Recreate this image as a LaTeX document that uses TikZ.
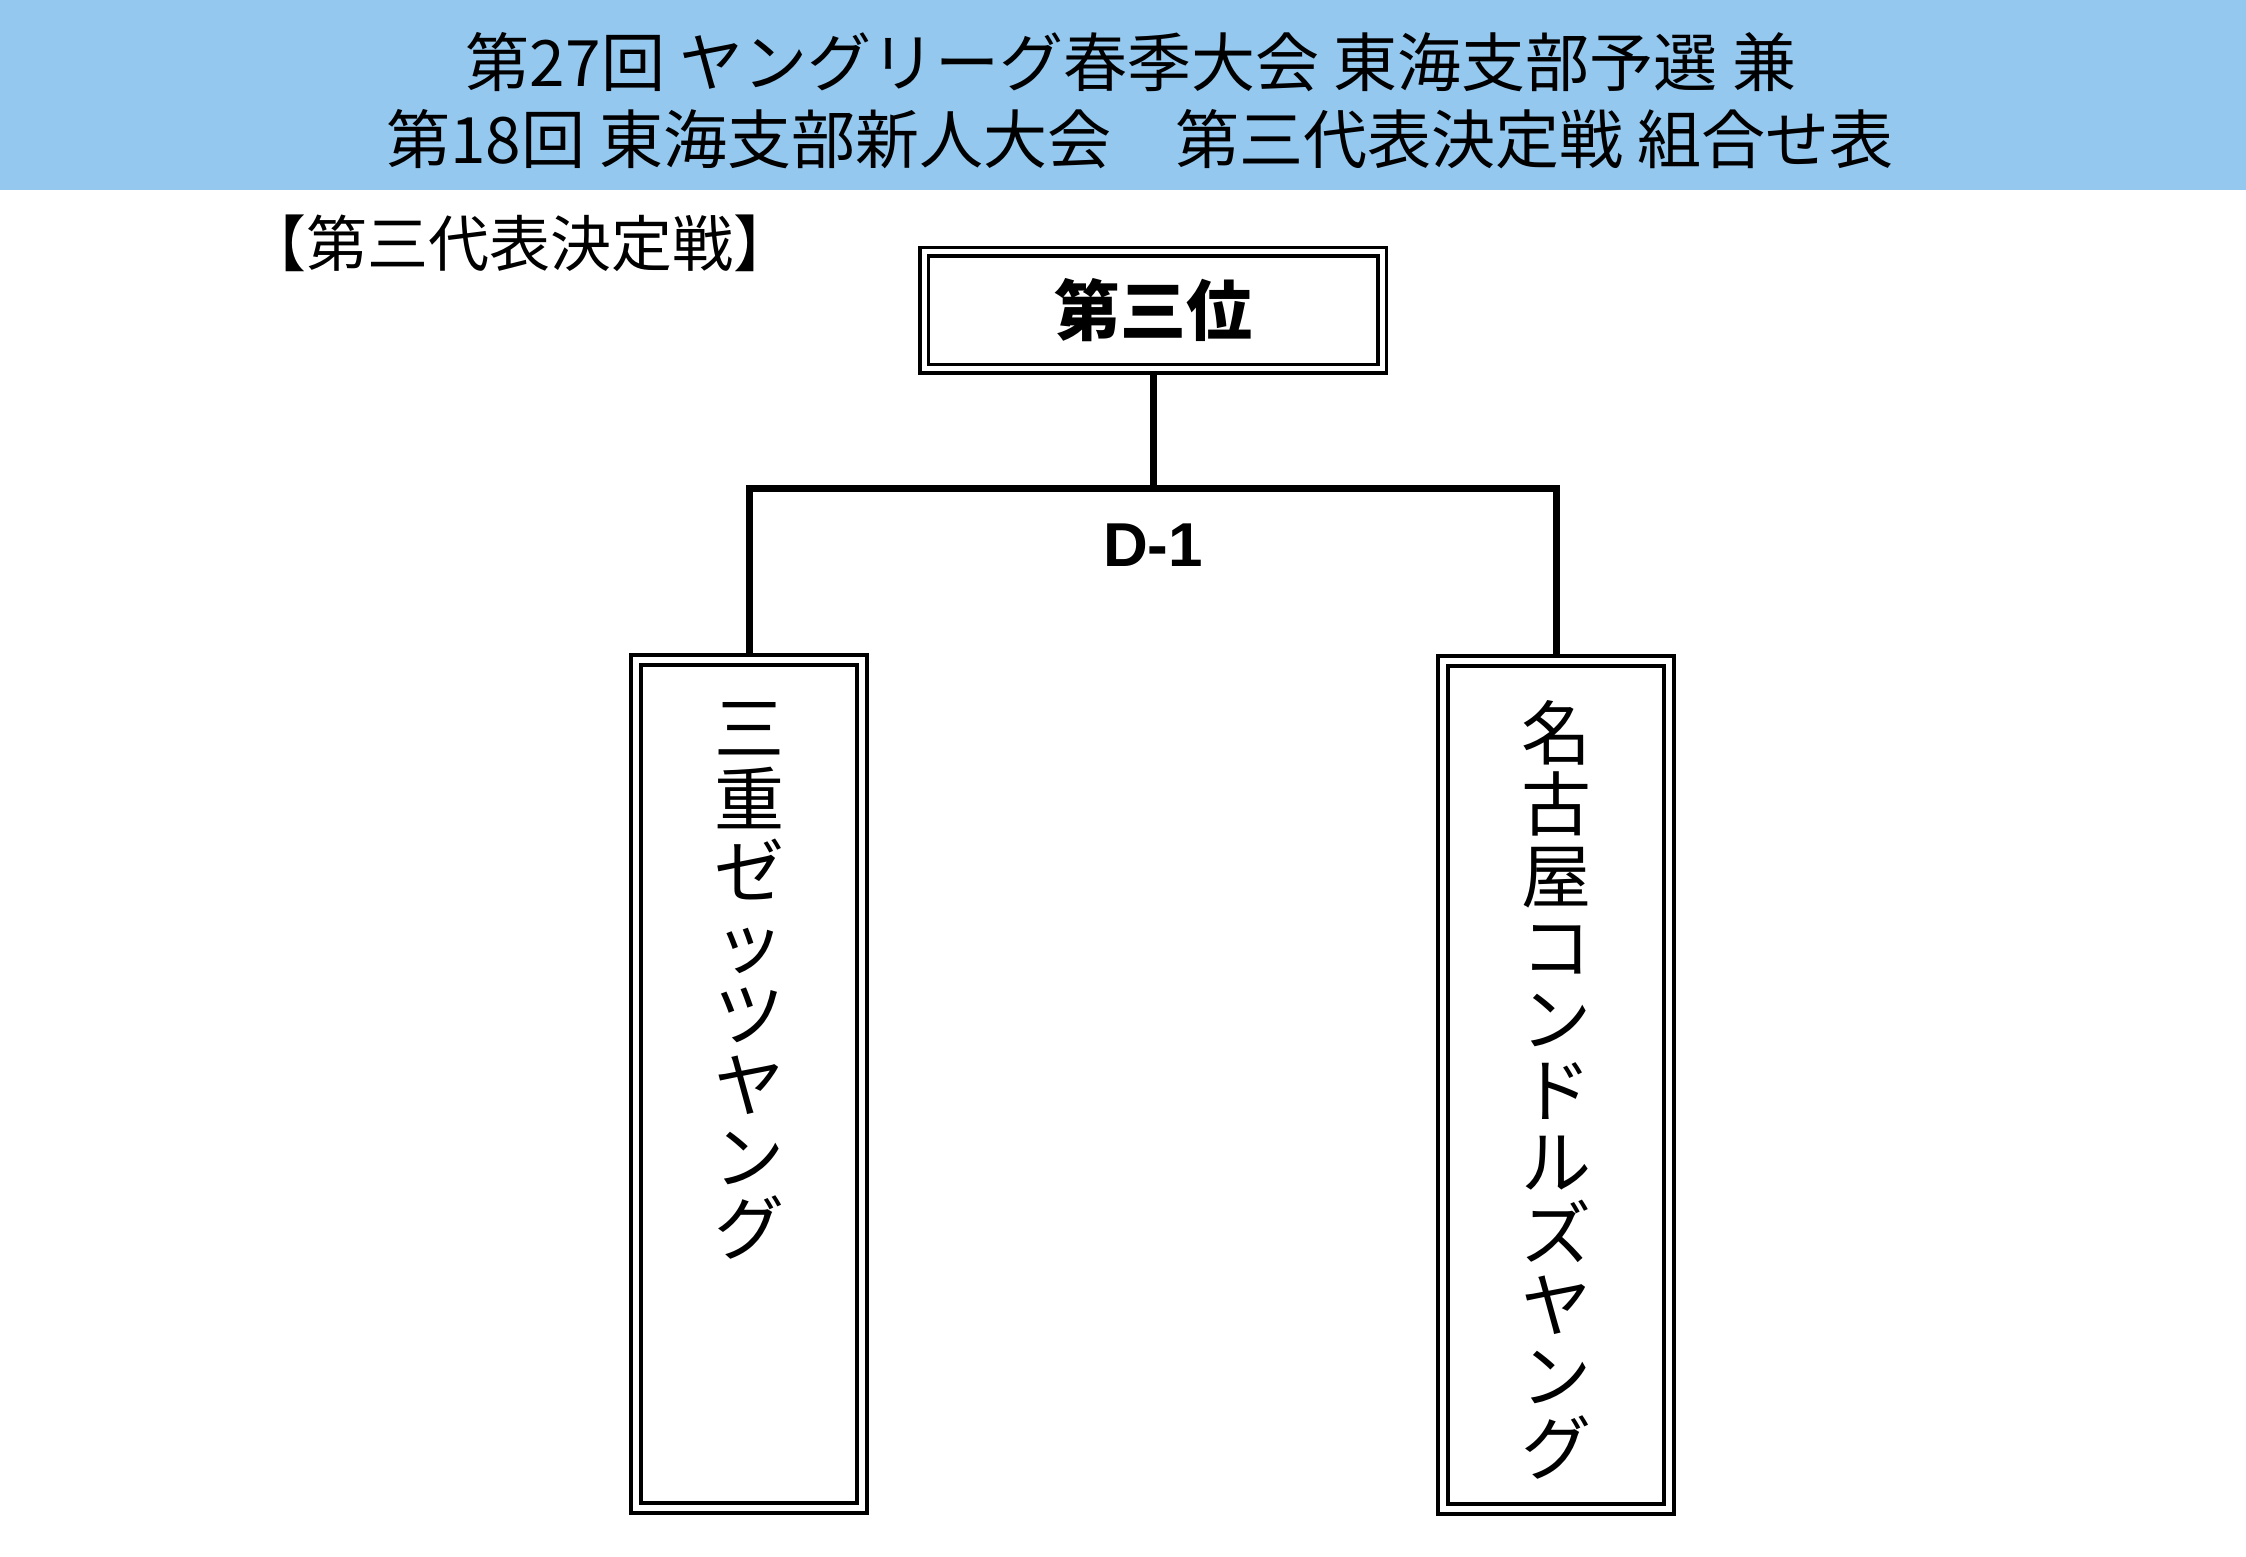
\documentclass[tikz,border=0pt]{standalone}
\usepackage{fontspec}
\newfontfamily\jp{Noto Sans CJK JP}
\newfontfamily\lat{Liberation Sans}
\definecolor{band}{RGB}{148,200,238}
\tikzset{
  title/.style={font=\jp\fontsize{64}{64}\selectfont, inner sep=0pt},
  head/.style={font=\jp\fontsize{61}{61}\selectfont, inner sep=0pt},
  topbox/.style={draw, line width=3.5pt, double, double distance=5pt, outer sep=6pt, inner sep=0pt, minimum width=458pt, minimum height=117pt, font=\jp\bfseries\fontsize{66}{66}\selectfont},
  teambox/.style={draw, line width=4pt, double, double distance=6pt, outer sep=7pt, inner sep=0pt, minimum width=226pt, minimum height=848pt},
  teamname/.style={font=\jp\fontsize{70}{71.5}\selectfont, align=center, anchor=north, inner sep=0pt},
  link/.style={line width=7pt},
}
\begin{document}
\begin{tikzpicture}[x=1pt,y=-1pt]
        \useasboundingbox (0,0) rectangle (2246,1556);
        \fill[band] (0,0) rectangle (2246,190);
        \node[title] (t1) at (1131,62) {第27回 ヤングリーグ春季大会 東海支部予選 兼};
        \node[title] (t2) at (1140,139) {第18回 東海支部新人大会　第三代表決定戦 組合せ表};
        \node[head] (h) at (520,243) {【第三代表決定戦】};

        \node[topbox] (third) at (1153,310) {第三位};
        \node[teambox] (a) at (749,1084) {};
        \node[teambox] (b) at (1556,1085) {};
        \node[teamname] (an) at (749,702) {三\\重\\ゼ\\ッ\\ツ\\ヤ\\ン\\グ};
        \node[teamname] (bn) at (1556,700) {名\\古\\屋\\コ\\ン\\ド\\ル\\ズ\\ヤ\\ン\\グ};

        \coordinate (j) at (1153,488);
        \draw[link] (third) -- (j);
        \draw[link] (a) |- (j) -| (b);
        \node[font=\lat\bfseries\fontsize{62}{62}\selectfont, inner sep=0pt] (d1) at (1153,545) {D-1};
      \end{tikzpicture}
\end{document}
